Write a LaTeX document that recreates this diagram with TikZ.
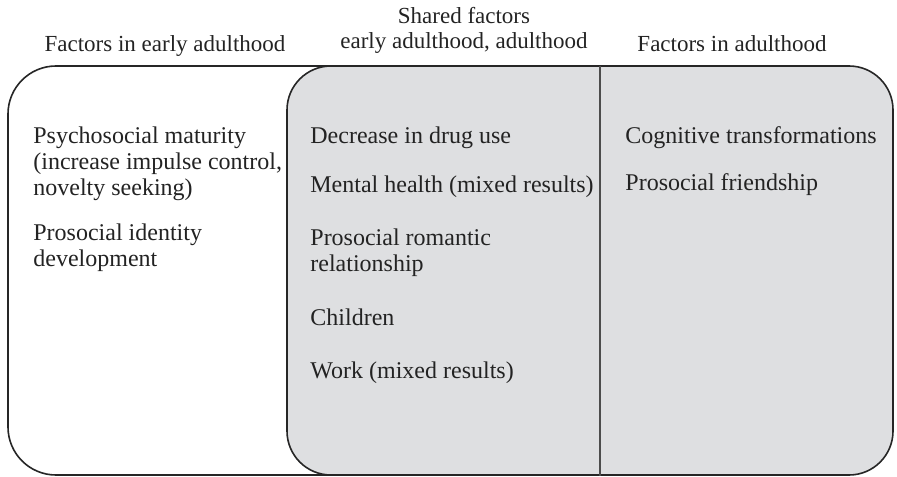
\documentclass[tikz,border=0pt]{standalone}
\usepackage{fontspec}
\setmainfont{Liberation Serif}
\definecolor{shade}{RGB}{222,223,225}
\definecolor{ink}{RGB}{35,35,35}

\begin{document}
\begin{tikzpicture}[x=0.5pt, y=-0.5pt,
		head/.style={inner sep=0pt, anchor=base, align=center, text=ink, font=\fontsize{11.5}{12.5}\selectfont},
		item/.style={inner sep=0pt, anchor=base west, align=left, text=ink, font=\fontsize{12}{13}\selectfont},
		frame/.style={draw=black!85, line width=0.8pt, rounded corners=24pt}]
		\useasboundingbox (0,0) rectangle (897,476);
		\draw[frame, fill=white] (8,66) rectangle (640,475);
		\draw[frame, fill=shade, rounded corners=22pt] (287,66) rectangle (893,475);
		\draw[black!70, line width=0.6pt] (600,66) -- (600,476);
		\node[head] (early) at (165,52) {Factors in early adulthood};
		\node[head] (shared) at (464,49) {Shared factors\\early adulthood, adulthood};
		\node[head] (adult) at (732,52) {Factors in adulthood};
		\node[item] (maturity) at (33,195) {Psychosocial maturity\\(increase impulse control,\\novelty seeking)};
		\node[item] (identity) at (33,266) {Prosocial identity\\development};
		\node[item] (drugs) at (310,143) {Decrease in drug use};
		\node[item] (mental) at (310,192) {Mental health (mixed results)};
		\node[item] (romantic) at (310,271) {Prosocial romantic\\relationship};
		\node[item] (children) at (310,325) {Children};
		\node[item] (work) at (310,378) {Work (mixed results)};
		\node[item] (cognitive) at (625,143) {Cognitive transformations};
		\node[item] (friendship) at (625,190) {Prosocial friendship};
\end{tikzpicture}
\end{document}
